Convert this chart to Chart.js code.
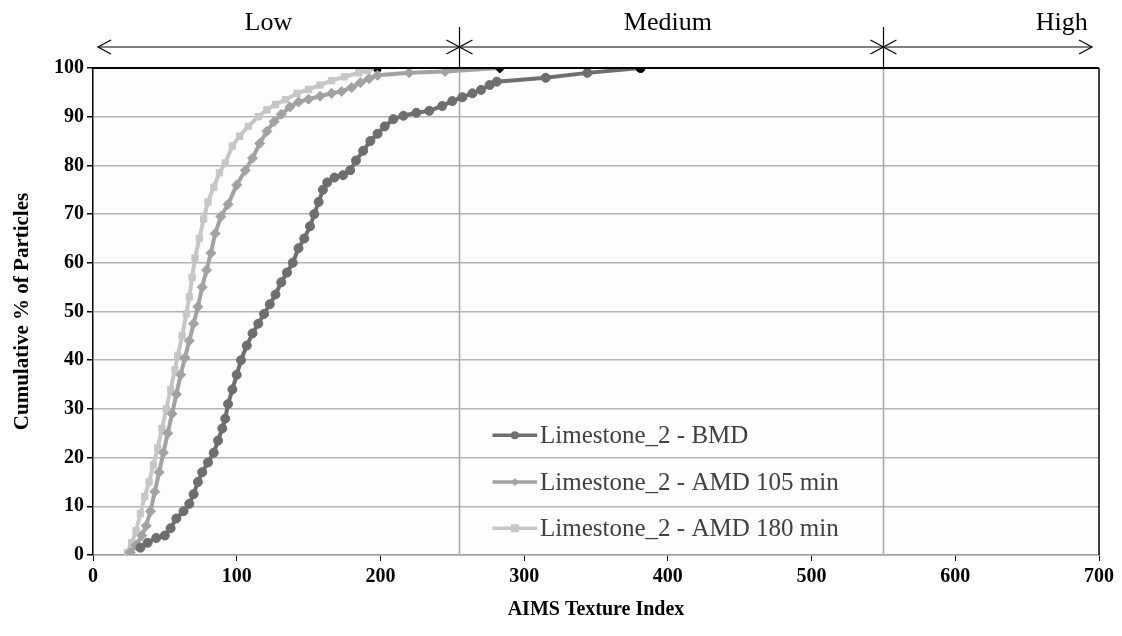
<!DOCTYPE html>
<html>
<head>
<meta charset="utf-8">
<title>AIMS Texture Index - Limestone_2</title>
<script src="https://cdn.jsdelivr.net/npm/chart.js@4.4.0/dist/chart.umd.min.js"></script>
<style>
    html, body { margin: 0; padding: 0; background: #ffffff; }
    #chart { display: block; }
</style>
</head>
<body>
<canvas id="chart" width="1122" height="636"></canvas>
<script>
// ======================== Data ========================

const seriesLabels = ['Limestone_2 - BMD', 'Limestone_2 - AMD 105 min', 'Limestone_2 - AMD 180 min'];

const bmdX = [33, 38, 44, 50, 54, 58, 63, 67, 70, 73, 76, 80, 84, 87, 90, 92, 94, 97, 100, 103,
    107, 111, 115, 119, 123, 127, 131, 135, 139, 143, 147, 151, 154, 157, 160, 163, 168, 174, 179, 183,
    188, 193, 198, 203, 209, 216, 225, 234, 243, 250, 257, 264, 270, 276, 281, 315, 344, 381];
const bmdY = [1.5, 2.5, 3.5, 4, 5.5, 7.5, 9, 10.5, 12.5, 15, 17, 19, 21, 23.5, 26, 28, 31, 34, 37, 40,
    43, 45.5, 47.5, 49.5, 51.5, 53.5, 56, 58, 60, 63, 65, 67.5, 70, 72.5, 75, 76.5, 77.5, 78, 79, 81,
    83, 85, 86.5, 88, 89.5, 90.2, 90.8, 91.2, 92.2, 93.2, 94, 94.8, 95.5, 96.5, 97.2, 98, 99, 100];

const amd105X = [26, 30, 34, 37, 40, 43, 46, 49, 52, 55, 58, 61, 64, 67, 70, 73, 76, 79, 82, 85,
    89, 94, 100, 106, 111, 116, 121, 126, 131, 137, 143, 150, 158, 166, 173, 180, 186, 192, 198, 220, 245, 283];
const amd105Y = [0.5, 2, 4, 6, 9, 13, 17, 21, 25, 29, 33, 37, 40.5, 44, 47.5, 51, 55, 58.5, 62, 66,
    69.5, 72, 76, 79, 81.5, 84.5, 87, 89, 90.5, 92, 93, 93.6, 94.2, 94.8, 95.2, 96, 97, 97.8, 98.5, 99, 99.3, 100];

const amd180X = [24, 27, 30, 33, 36, 39, 42, 45, 48, 51, 54, 57, 59, 62, 65, 67, 69, 71, 74, 77,
    80, 84, 88, 92, 97, 102, 108, 115, 121, 127, 134, 142, 150, 158, 166, 175, 185, 191, 198];
const amd180Y = [0.5, 2.5, 5, 8.5, 12, 15, 18.5, 22, 26, 30, 34, 38, 41, 45, 49.5, 53, 57, 61, 65, 69,
    72.5, 75.5, 78.5, 80.5, 84, 86, 88, 90, 91.4, 92.5, 93.5, 94.8, 95.6, 96.5, 97.4, 98.2, 99, 99.5, 100];

// Texture zones shown above the plot
const zoneNames = ['Low', 'Medium', 'High'];
const zoneBounds = [0, 255, 550, 700];
const zoneLabelX = [122, 400, 674];

// ======================== Styles ========================

const FONT = "'Liberation Serif', 'Times New Roman', serif";
const seriesColors = ['#6e6e6e', '#a2a2a2', '#c6c6c6'];
const seriesMarkers = ['circle', 'rectRot', 'rect'];

function toPoints(xs, ys) {
    return xs.map((x, i) => ({ x: x, y: ys[i] }));
}

function makeDataset(i, xs, ys) {
    const last = xs.length - 1;
    return {
        label: seriesLabels[i],
        data: toPoints(xs, ys),
        borderColor: seriesColors[i],
        borderWidth: 4,
        pointStyle: seriesMarkers[i],
        pointRadius: i === 1 ? 5 : 4.5,
        pointBorderWidth: 1,
        pointBackgroundColor: ctx => ctx.dataIndex === last ? '#000000' : seriesColors[i],
        pointBorderColor: ctx => ctx.dataIndex === last ? '#000000' : seriesColors[i],
        tension: 0
    };
}

// ======================== Plugins ========================

const plotBackground = {
    id: 'plotBackground',
    beforeDraw(chart) {
        const { ctx, chartArea: a } = chart;
        ctx.save();
        ctx.fillStyle = '#fdfdfd';
        ctx.fillRect(a.left, a.top, a.right - a.left, a.bottom - a.top);
        ctx.restore();
    },
    beforeDatasetsDraw(chart) {
        // vertical zone separators inside plot
        const { ctx, chartArea: a, scales } = chart;
        ctx.save();
        ctx.strokeStyle = '#a8a8a8';
        ctx.lineWidth = 1.5;
        [zoneBounds[1], zoneBounds[2]].forEach(v => {
            const px = Math.round(scales.x.getPixelForValue(v)) + 0.5;
            ctx.beginPath();
            ctx.moveTo(px, a.top);
            ctx.lineTo(px, a.bottom);
            ctx.stroke();
        });
        ctx.restore();
    }
};

function drawArrowHead(ctx, x, y, dir) {
    ctx.beginPath();
    ctx.moveTo(x - dir * 13, y - 7);
    ctx.lineTo(x, y);
    ctx.lineTo(x - dir * 13, y + 7);
    ctx.stroke();
}

function drawMarker(ctx, style, x, y, r) {
    ctx.beginPath();
    if (style === 'circle') {
        ctx.arc(x, y, r, 0, 2 * Math.PI);
    } else if (style === 'rectRot') {
        ctx.moveTo(x, y - r);
        ctx.lineTo(x + r, y);
        ctx.lineTo(x, y + r);
        ctx.lineTo(x - r, y);
        ctx.closePath();
    } else {
        ctx.rect(x - r, y - r, 2 * r, 2 * r);
    }
    ctx.fill();
}

const annotations = {
    id: 'annotations',
    afterDraw(chart) {
        const { ctx, chartArea: a, scales } = chart;
        const xs = scales.x, ys = scales.y;
        ctx.save();

        // top and right frame
        ctx.strokeStyle = '#000000';
        ctx.lineWidth = 2;
        ctx.beginPath();
        ctx.moveTo(a.left, a.top);
        ctx.lineTo(a.right, a.top);
        ctx.stroke();
        ctx.lineWidth = 1.5;
        ctx.beginPath();
        ctx.moveTo(a.right, a.top);
        ctx.lineTo(a.right, a.bottom);
        ctx.stroke();

        // zone arrows
        const arrowY = 47;
        ctx.lineWidth = 1.2;
        const b0 = xs.getPixelForValue(zoneBounds[0]) + 5;
        const b1 = xs.getPixelForValue(zoneBounds[1]);
        const b2 = xs.getPixelForValue(zoneBounds[2]);
        const b3 = xs.getPixelForValue(zoneBounds[3]) - 7;
        ctx.beginPath();
        ctx.moveTo(b0, arrowY);
        ctx.lineTo(b3, arrowY);
        ctx.stroke();
        drawArrowHead(ctx, b0, arrowY, -1);
        drawArrowHead(ctx, b1, arrowY, 1);
        drawArrowHead(ctx, b1, arrowY, -1);
        drawArrowHead(ctx, b2, arrowY, 1);
        drawArrowHead(ctx, b2, arrowY, -1);
        drawArrowHead(ctx, b3, arrowY, 1);
        [b1, b2].forEach(px => {
            ctx.beginPath();
            ctx.moveTo(Math.round(px) + 0.5, 27);
            ctx.lineTo(Math.round(px) + 0.5, a.top);
            ctx.stroke();
        });

        // zone labels
        ctx.fillStyle = '#000000';
        ctx.font = '26px ' + FONT;
        ctx.textAlign = 'center';
        ctx.textBaseline = 'middle';
        zoneNames.forEach((name, i) => {
            ctx.fillText(name, xs.getPixelForValue(zoneLabelX[i]), 23);
        });

        // legend inside the plot
        const legendRows = [24.6, 15.0, 5.5];
        const lx0 = xs.getPixelForValue(278);
        const lx1 = xs.getPixelForValue(309);
        ctx.font = '25px ' + FONT;
        ctx.textAlign = 'left';
        legendRows.forEach((v, i) => {
            const py = ys.getPixelForValue(v);
            ctx.strokeStyle = seriesColors[i];
            ctx.fillStyle = seriesColors[i];
            ctx.lineWidth = 3.5;
            ctx.beginPath();
            ctx.moveTo(lx0, py);
            ctx.lineTo(lx1, py);
            ctx.stroke();
            drawMarker(ctx, seriesMarkers[i], (lx0 + lx1) / 2, py, 4);
            ctx.fillStyle = '#404040';
            ctx.fillText(seriesLabels[i], lx1 + 3, py + 1);
        });

        ctx.restore();
    }
};

// ======================== Chart ========================

const ctx = document.getElementById('chart').getContext('2d');

new Chart(ctx, {
    type: 'line',
    data: {
        datasets: [
            makeDataset(0, bmdX, bmdY),
            makeDataset(1, amd105X, amd105Y),
            makeDataset(2, amd180X, amd180Y)
        ]
    },
    options: {
        responsive: false,
        animation: false,
        devicePixelRatio: 1,
        layout: {
            padding: { top: 68, right: 23, left: 0, bottom: 0 }
        },
        scales: {
            x: {
                type: 'linear',
                min: 0,
                max: 700,
                afterFit: scale => { scale.height = 81; },
                ticks: {
                    stepSize: 100,
                    color: '#000000',
                    padding: 4,
                    font: { family: FONT, size: 20, weight: 'bold' }
                },
                grid: {
                    drawOnChartArea: false,
                    tickLength: 6,
                    tickColor: '#000000'
                },
                border: { color: '#a0a0a0', width: 1.5 },
                title: {
                    display: true,
                    text: 'AIMS Texture Index',
                    color: '#000000',
                    font: { family: FONT, size: 20, weight: 'bold' },
                    padding: { top: 14, bottom: 14 }
                }
            },
            y: {
                min: 0,
                max: 100,
                afterFit: scale => { scale.width = 93; },
                ticks: {
                    stepSize: 10,
                    color: '#000000',
                    font: { family: FONT, size: 20, weight: 'bold' }
                },
                grid: {
                    color: '#b4b4b4',
                    lineWidth: 1.5,
                    tickLength: 6,
                    tickColor: '#000000'
                },
                border: { color: '#000000', width: 1.5 },
                title: {
                    display: true,
                    text: 'Cumulative % of Particles',
                    color: '#000000',
                    font: { family: FONT, size: 21, weight: 'bold' },
                    padding: { top: 10, bottom: 10 }
                }
            }
        },
        plugins: {
            legend: { display: false },
            tooltip: { enabled: false }
        }
    },
    plugins: [plotBackground, annotations]
});
</script>
</body>
</html>
